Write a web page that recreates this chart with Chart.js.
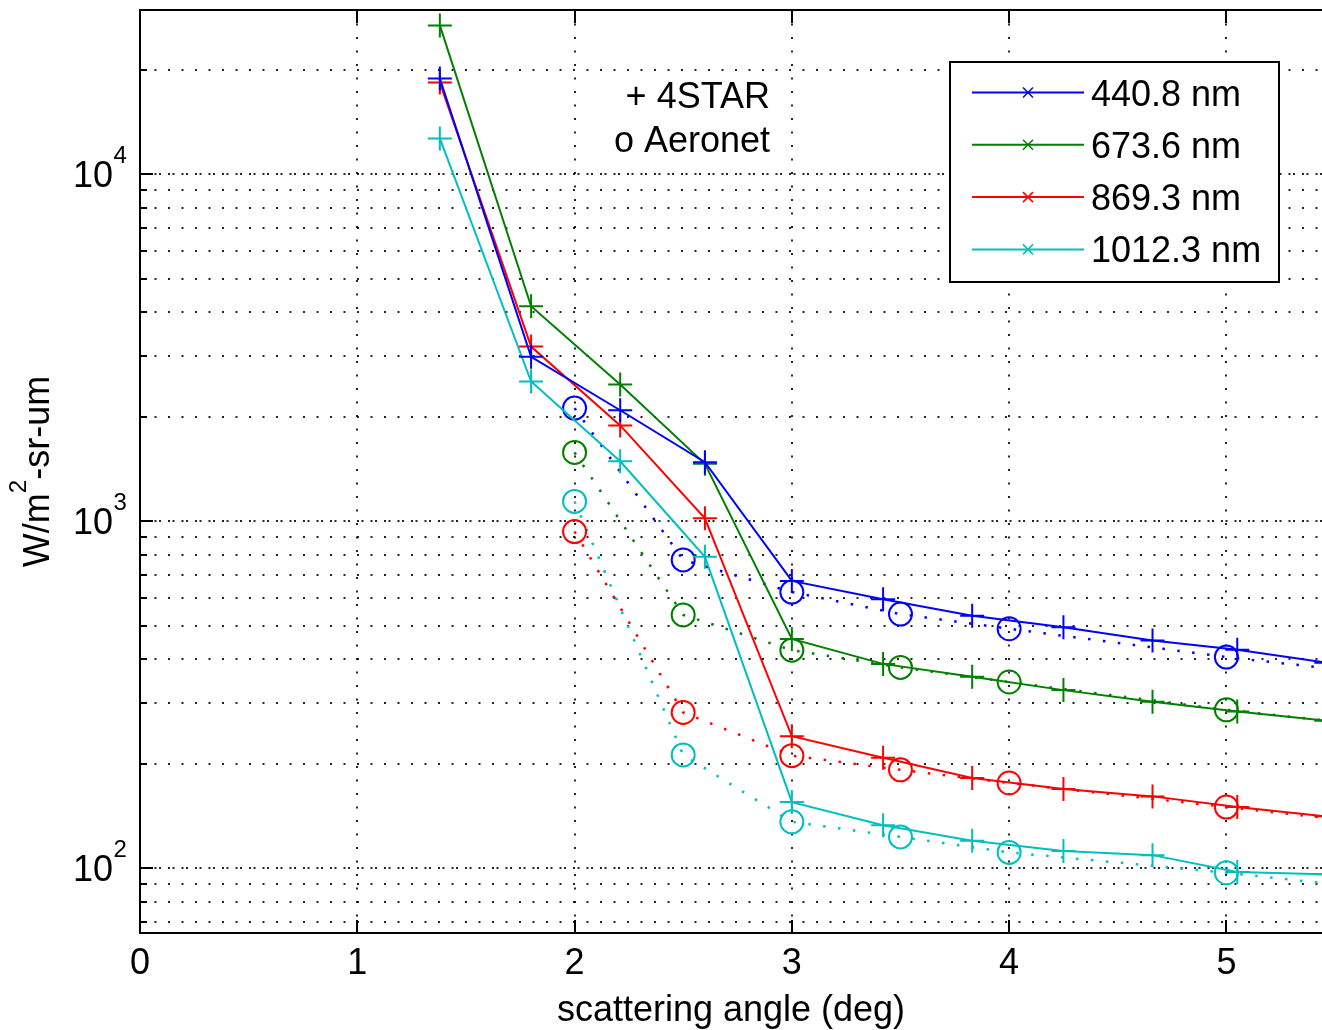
<!DOCTYPE html>
<html>
<head>
<meta charset="utf-8">
<script src="https://cdn.jsdelivr.net/npm/chart.js@4.4.1/dist/chart.umd.min.js"></script>
<style>
  html, body { margin: 0; padding: 0; background: #fff; overflow: hidden; }
  canvas { display: block; }
</style>
</head>
<body>
<canvas id="skyChart" width="1322" height="1030"></canvas>
<script>
// ----- values -----
const wavelengths = ['440.8 nm', '673.6 nm', '869.3 nm', '1012.3 nm'];
const lineColors = ['#0000ff', '#008000', '#ff0000', '#00bfbf'];

// 4STAR sky scan: "+" markers, solid lines
const starAngles = [1.38, 1.80, 2.21, 2.60, 3.00, 3.42, 3.83, 4.25, 4.66, 5.05, 5.46];
const star440  = [18900, 2980, 2090, 1480, 673, 596, 534, 495, 453, 426, 391];
const star674  = [26900, 4170, 2480, 1465, 458, 388, 356, 326, 302, 283, 266];
const star869  = [18400, 3190, 1890, 1020, 240, 208, 182, 169, 161, 150, 141];
const star1012 = [12700, 2530, 1490,  790, 155, 133, 120, 112, 109, 97.5, 96];

// Aeronet almucantar: "o" markers, dotted lines
const aeroAngles = [2.0, 2.5, 3.0, 3.5, 4.0, 5.0, 6.0];
const aero440  = [2120, 774, 625, 540, 490, 406, 346];
const aero674  = [1580, 537, 425, 379, 344, 286, 245];
const aero869  = [934, 281, 211, 192, 176, 150, 128];
const aero1012 = [1141, 212, 136, 123, 111, 97, 83];

const xTickValues = [0, 1, 2, 3, 4, 5];
const xTickLabels = ['0', '1', '2', '3', '4', '5'];
const yGridValues = [70, 80, 90, 100, 200, 300, 400, 500, 600, 700, 800, 900,
  1000, 2000, 3000, 4000, 5000, 6000, 7000, 8000, 9000, 10000, 20000];
const yLabelValues = [100, 1000, 10000];
const yLabelExps = ['2', '3', '4'];
const sourceNotes = ['+ 4STAR', 'o Aeronet'];
const xTitle = 'scattering angle (deg)';

const FONT = '"Liberation Sans", Arial, Helvetica, sans-serif';

const starSeries = [star440, star674, star869, star1012];
const aeroSeries = [aero440, aero674, aero869, aero1012];

const pts = (xs, ys) => xs.map((a, k) => ({ x: a, y: ys[k] }));

const datasets = [];
starSeries.forEach((vals, i) => {
  datasets.push({
    label: wavelengths[i],
    data: pts(starAngles, vals),
    borderColor: lineColors[i],
    borderWidth: 2,
    tension: 0,
    fill: false,
    pointStyle: 'cross',
    pointRadius: 12,
    pointBorderWidth: 2,
    pointBorderColor: lineColors[i],
    pointBackgroundColor: lineColors[i]
  });
});
aeroSeries.forEach((vals, i) => {
  datasets.push({
    label: 'Aeronet ' + wavelengths[i],
    data: pts(aeroAngles, vals),
    borderColor: lineColors[i],
    borderWidth: 2.5,
    borderDash: [2.5, 12.5],
    tension: 0,
    fill: false,
    pointStyle: 'circle',
    pointRadius: 11.5,
    pointBorderWidth: 2,
    pointBorderColor: lineColors[i],
    pointBackgroundColor: 'rgba(0,0,0,0)'
  });
});

/**
 * matlabDecor: top frame line, inward ticks, y labels with exponents,
 * rotated y title, the "+ 4STAR / o Aeronet" note and the boxed legend.
 */
const matlabDecor = {
  id: 'matlabDecor',
  afterDraw(chart) {
    const { ctx, chartArea: ca, scales: { x, y } } = chart;
    ctx.save();
    ctx.strokeStyle = '#000';
    ctx.lineWidth = 2;

    // top frame line
    ctx.beginPath();
    ctx.moveTo(ca.left - 1, ca.top);
    ctx.lineTo(ca.right, ca.top);
    ctx.stroke();

    // inward tick marks
    ctx.beginPath();
    xTickValues.forEach(v => {
      const px = Math.round(x.getPixelForValue(v));
      ctx.moveTo(px, ca.bottom); ctx.lineTo(px, ca.bottom - 13);
      ctx.moveTo(px, ca.top); ctx.lineTo(px, ca.top + 13);
    });
    yGridValues.forEach(v => {
      const py = Math.round(y.getPixelForValue(v));
      const len = yLabelValues.includes(v) ? 13 : 7;
      ctx.moveTo(ca.left, py); ctx.lineTo(ca.left + len, py);
    });
    ctx.stroke();

    // y tick labels 10^n
    ctx.fillStyle = '#000';
    ctx.textBaseline = 'alphabetic';
    yLabelValues.forEach((v, i) => {
      const py = y.getPixelForValue(v);
      ctx.font = `36px ${FONT}`;
      ctx.textAlign = 'right';
      ctx.fillText('10', ca.left - 27, py + 13);
      ctx.font = `24px ${FONT}`;
      ctx.textAlign = 'left';
      ctx.fillText(yLabelExps[i], ca.left - 26.5, py - 11);
    });

    // y title, rotated, with superscript 2
    ctx.save();
    ctx.translate(49, (ca.top + ca.bottom) / 2);
    ctx.rotate(-Math.PI / 2);
    const parts = [['W/m', 36, 0], ['2', 24, -23], ['-sr-um', 36, 0]];
    let total = 0;
    parts.forEach(p => { ctx.font = `${p[1]}px ${FONT}`; total += ctx.measureText(p[0]).width; });
    let cx = -total / 2;
    ctx.textAlign = 'left';
    parts.forEach(p => {
      ctx.font = `${p[1]}px ${FONT}`;
      ctx.fillText(p[0], cx, p[2]);
      cx += ctx.measureText(p[0]).width;
    });
    ctx.restore();

    // source note
    ctx.font = `36px ${FONT}`;
    ctx.textAlign = 'right';
    ctx.fillText(sourceNotes[0], 770, 108);
    ctx.fillText(sourceNotes[1], 770, 152);

    // legend box
    const lx = 950, ly = 62, lw = 329, lh = 220;
    ctx.fillStyle = '#fff';
    ctx.fillRect(lx, ly, lw, lh);
    ctx.strokeStyle = '#000';
    ctx.lineWidth = 2;
    ctx.strokeRect(lx, ly, lw, lh);
    wavelengths.forEach((label, i) => {
      const rowY = ly + 30.5 + i * 52.3;
      ctx.strokeStyle = lineColors[i];
      ctx.lineWidth = 2;
      ctx.beginPath();
      ctx.moveTo(lx + 22, rowY); ctx.lineTo(lx + 134, rowY);
      ctx.stroke();
      ctx.lineWidth = 1.5;
      ctx.beginPath();
      ctx.moveTo(lx + 73, rowY - 5); ctx.lineTo(lx + 83, rowY + 5);
      ctx.moveTo(lx + 73, rowY + 5); ctx.lineTo(lx + 83, rowY - 5);
      ctx.stroke();
      ctx.fillStyle = '#000';
      ctx.font = `36px ${FONT}`;
      ctx.textAlign = 'left';
      ctx.fillText(label, lx + 141, rowY + 13);
    });
    ctx.restore();
  }
};

const gridDots = [2, 11.5];
const decadeDots = [2, 2.5, 2, 7];

new Chart(document.getElementById('skyChart').getContext('2d'), {
  type: 'line',
  data: { datasets },
  options: {
    responsive: false,
    animation: false,
    events: [],
    layout: { autoPadding: false, padding: { top: 10, right: 0, bottom: 0, left: 0 } },
    plugins: { legend: { display: false }, tooltip: { enabled: false } },
    scales: {
      x: {
        type: 'linear',
        min: 0,
        max: 5.44,
        afterBuildTicks: (s) => { s.ticks = xTickValues.map(v => ({ value: v })); },
        afterFit: (s) => { s.height = 97; s.paddingLeft = 0; s.paddingRight = 0; },
        ticks: {
          color: '#000',
          padding: 9,
          maxRotation: 0,
          autoSkip: false,
          font: { family: FONT, size: 36 },
          callback: (v) => xTickLabels[xTickValues.indexOf(v)] ?? ''
        },
        grid: { color: 'rgba(0,0,0,0.85)', lineWidth: 2, drawTicks: false },
        border: { display: true, color: '#000', width: 2, dash: gridDots },
        title: {
          display: true,
          text: xTitle,
          color: '#000',
          font: { family: FONT, size: 36, lineHeight: 1.05 },
          padding: { top: 0, bottom: 0 }
        }
      },
      y: {
        type: 'logarithmic',
        min: 65,
        max: 29800,
        afterBuildTicks: (s) => { s.ticks = yGridValues.map(v => ({ value: v })); },
        afterFit: (s) => { s.width = 140; },
        ticks: { display: false },
        grid: { color: 'rgba(0,0,0,0.85)', lineWidth: 2, drawTicks: false },
        border: {
          display: true, color: '#000', width: 2,
          dash: (c) => (c.tick && yLabelValues.includes(c.tick.value)) ? decadeDots : gridDots
        }
      }
    }
  },
  plugins: [matlabDecor]
});
</script>
</body>
</html>
